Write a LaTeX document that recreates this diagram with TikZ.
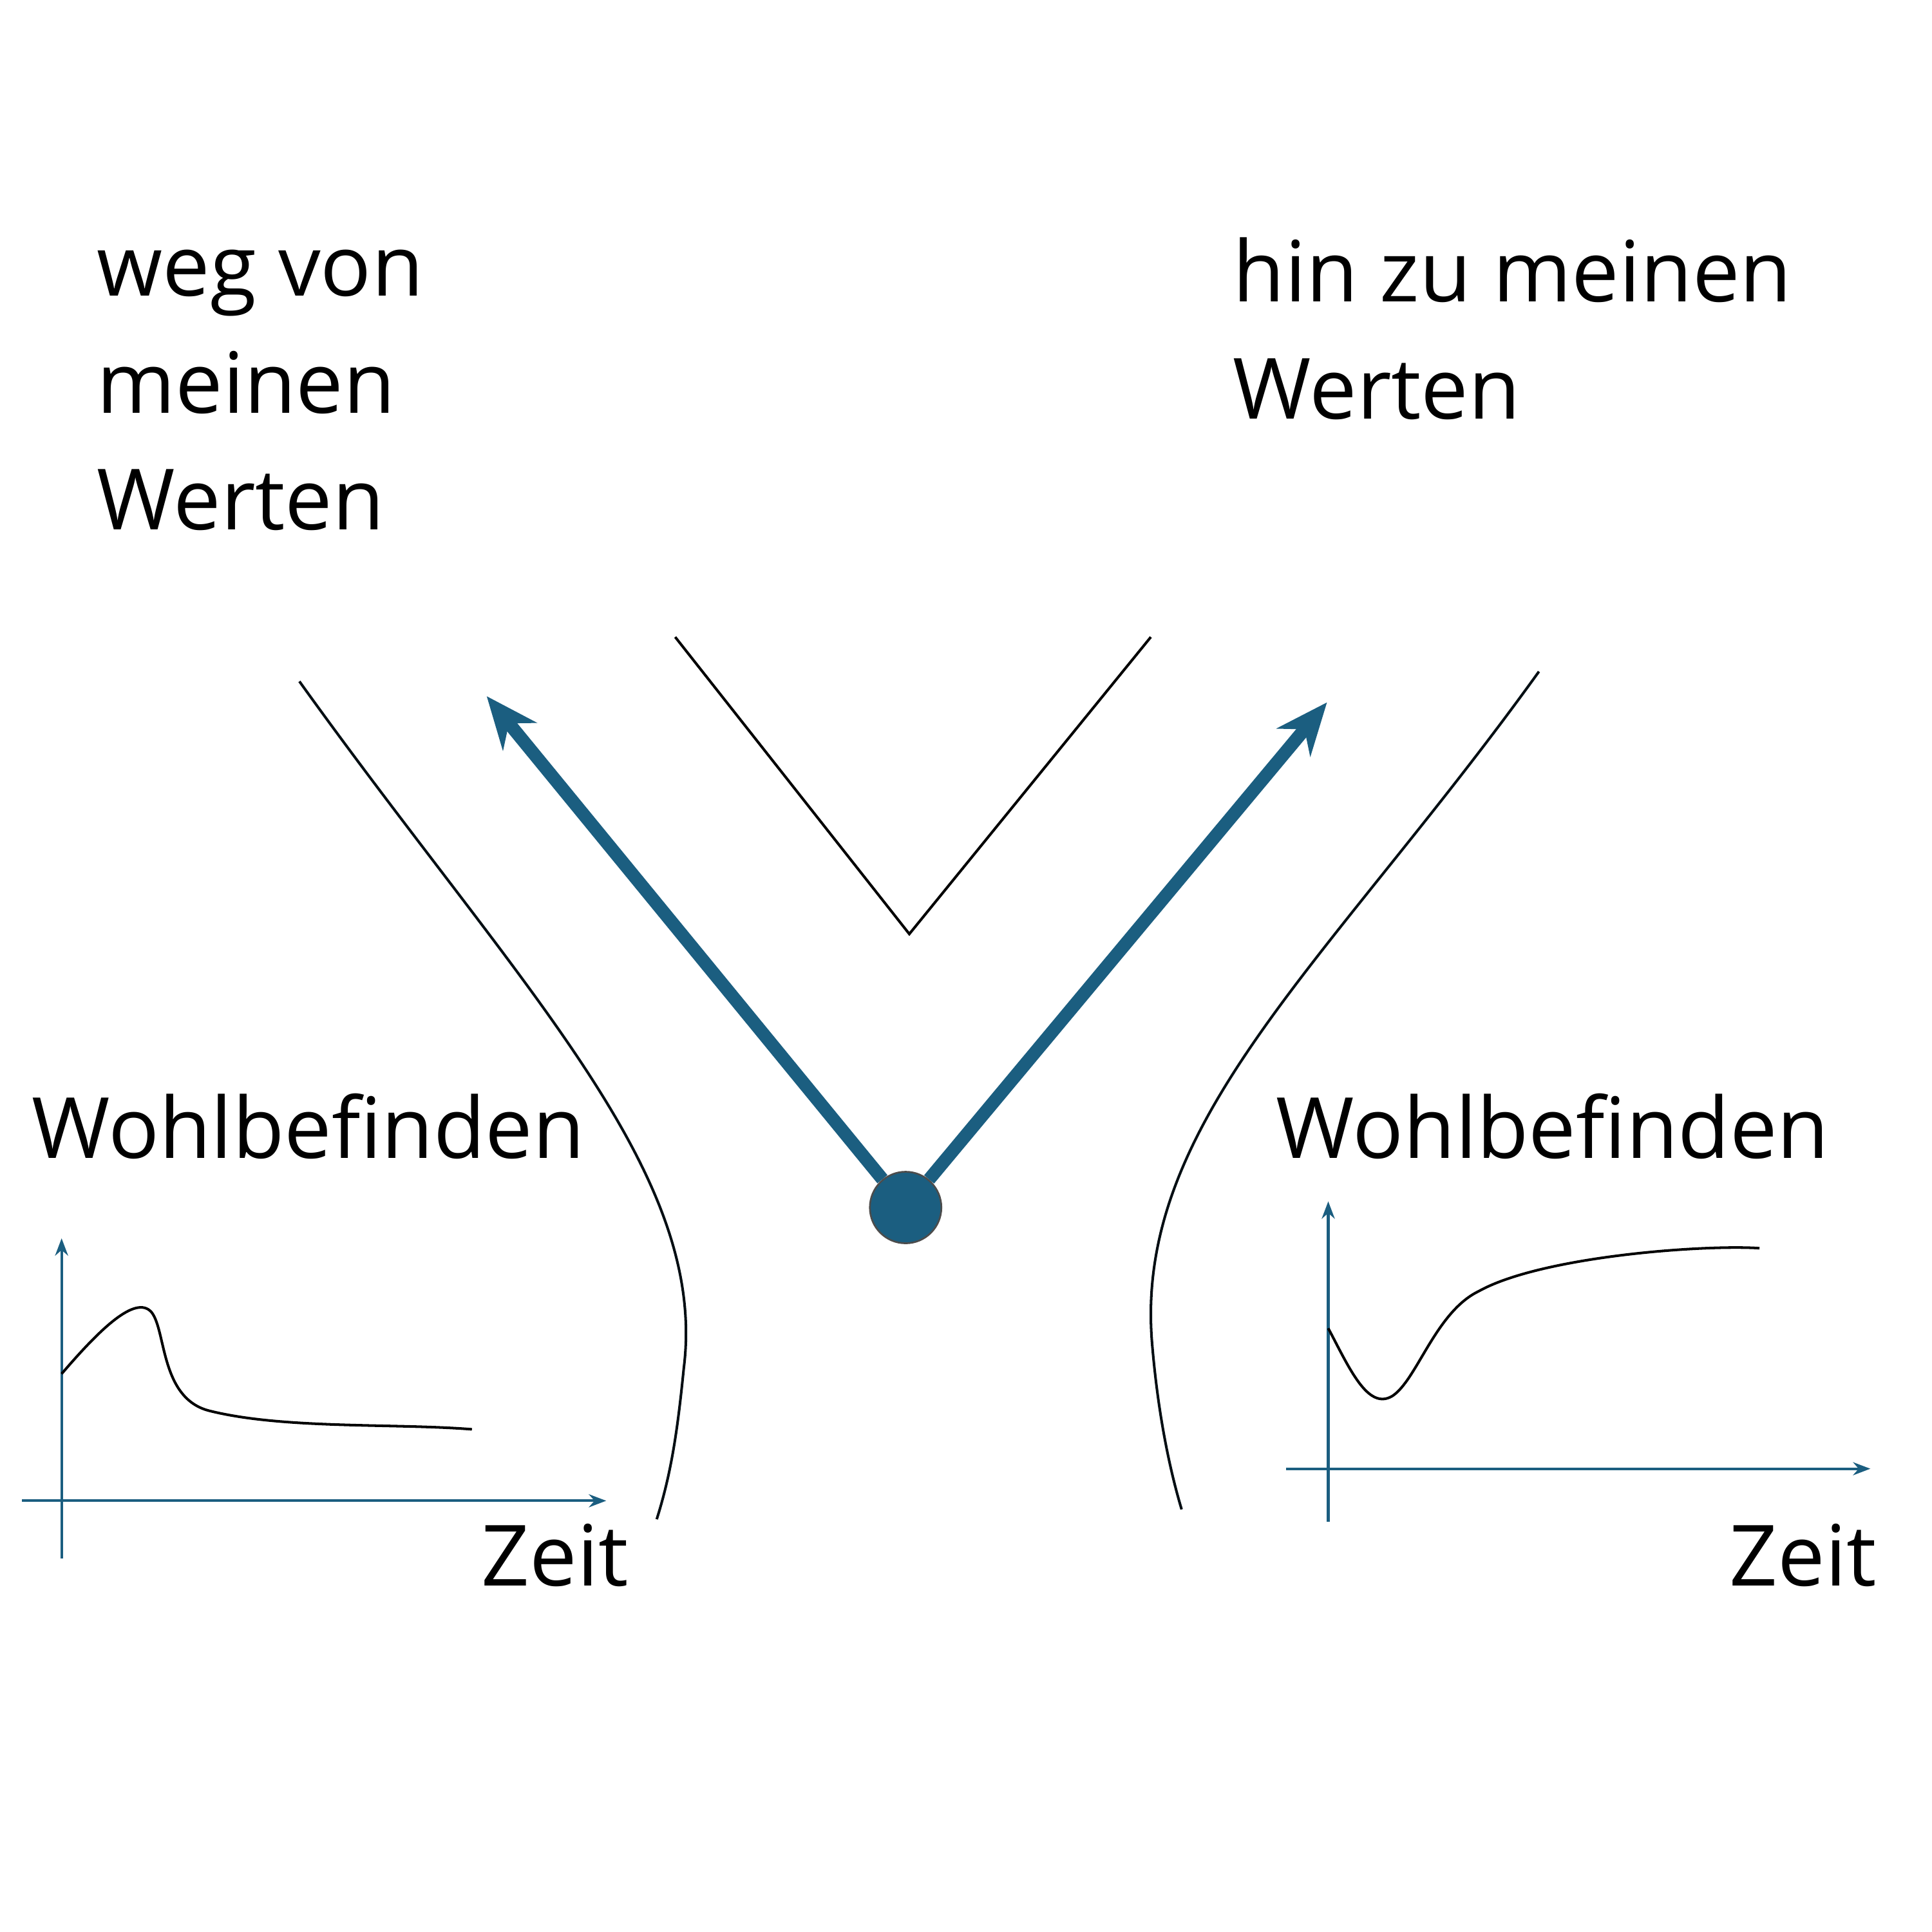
\documentclass[tikz,border=0pt]{standalone}
\usepackage{fontspec}
\setmainfont{Open Sans}
\usetikzlibrary{arrows.meta}
\definecolor{myblue}{HTML}{1B5E80}
\begin{document}
\begin{tikzpicture}[x=0.01cm,y=-0.01cm,
  lbl/.style={anchor=base west,inner sep=0,font=\fontsize{19.5}{27}\selectfont,align=left},
  axis/.style={myblue,line width=0.6pt,-{Stealth[length=4pt,width=3pt]}},
  thin/.style={line width=0.6pt},
  bigarrow/.style={myblue,line width=3pt,-{Stealth[length=12pt,width=10pt]}}]
\useasboundingbox (0,0) rectangle (1568,1568);
\node[lbl] (t1) at (78,430) {weg von\\meinen\\Werten};
\node[lbl] (t2) at (1000,340) {hin zu meinen\\Werten};
\draw[thin] (548,517) -- (738,758) -- (934,517);
\draw[thin,black!85!myblue] (243,553) .. controls (420,800) and (575,950) .. (555,1110) .. controls (550,1160) and (545,1195) .. (533,1233);
\draw[thin,black!85!myblue] (1249,545) .. controls (1080,780) and (920,910) .. (935,1090) .. controls (940,1150) and (950,1195) .. (959,1225);
\node[circle,fill=myblue,draw=black!70,minimum size=0.58cm,inner sep=0] (c) at (735,980) {};
\coordinate (a1) at (395,565);
\coordinate (a2) at (1077,570);
\draw[bigarrow] (c) -- (a1);
\draw[bigarrow] (c) -- (a2);
% left graph
\coordinate (ly0) at (50,1265); \coordinate (ly1) at (50,1005);
\coordinate (lx0) at (18,1218); \coordinate (lx1) at (492,1218);
\draw[axis] (ly0) -- (ly1);
\draw[axis] (lx0) -- (lx1);
\draw[thin] (50,1115) .. controls (80,1080) and (110,1050) .. (123,1065) .. controls (135,1080) and (130,1135) .. (170,1145) .. controls (230,1160) and (320,1155) .. (383,1160);
\node[lbl] (w1) at (25,940) {Wohlbefinden};
\node[lbl] (z1) at (390,1287) {Zeit};
% right graph
\coordinate (ry0) at (1078,1235); \coordinate (ry1) at (1078,975);
\coordinate (rx0) at (1044,1192); \coordinate (rx1) at (1518,1192);
\draw[axis] (ry0) -- (ry1);
\draw[axis] (rx0) -- (rx1);
\draw[thin] (1078,1078) .. controls (1095,1110) and (1110,1145) .. (1130,1133) .. controls (1150,1120) and (1165,1065) .. (1200,1048) .. controls (1250,1020) and (1380,1010) .. (1428,1013);
\node[lbl] (w2) at (1035,940) {Wohlbefinden};
\node[lbl] (z2) at (1403,1287) {Zeit};
\end{tikzpicture}
\end{document}
